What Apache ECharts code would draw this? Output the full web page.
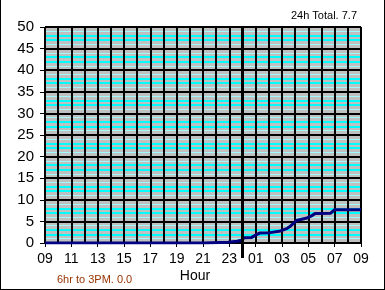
<!DOCTYPE html>
<html>
<head>
<meta charset="utf-8">
<script src="https://cdn.jsdelivr.net/npm/echarts@6/dist/echarts.min.js"></script>
<style>
html,body{margin:0;padding:0;background:#fff;}
#wrap{position:relative;width:385px;height:290px;}
#chart{position:absolute;left:0;top:0;width:385px;height:290px;}
#frame{position:absolute;left:0;top:0;width:385px;height:290px;box-sizing:border-box;border-left:1px solid #000;border-right:1px solid #000;border-bottom:1px solid #000;pointer-events:none;}
</style>
</head>
<body>
<div id="wrap"><div id="chart"></div><div id="frame"></div></div>
<script>
// Hours elapsed since 09:00 (0..24) and cumulative rainfall
var hours = [0, 12.1, 12.2, 13.9, 14.0, 14.6, 14.7, 15.0, 15.1, 15.7, 16.1, 16.3, 17.1, 17.2, 17.9, 18.0, 18.4, 18.6, 19.1, 19.5, 19.9, 20.0, 20.2, 20.5, 21.7, 22.0, 24];
var rain  = [0, 0,    0.2,  0.2,  0.4,  0.4,  0.6,  0.7,  1.2,  1.3,  2.0,  2.3,  2.4,  2.7,  2.8,  3.0,  3.4,  3.8,  5.2,  5.5,  5.8,  5.6,  6.2,  6.8,  6.9,  7.7,  7.7];
var hourTickLabels = ['09','11','13','15','17','19','21','23','01','03','05','07','09'];
var yTicks = [0,5,10,15,20,25,30,35,40,45,50];
var midnightHour = 15;
var totalText = '24h Total. 7.7';
var subText = '6hr to 3PM. 0.0';
var xName = 'Hour';

var FONT = 'Arial, "Liberation Sans", sans-serif';
var seriesData = hours.map(function(h,i){return [h, rain[i]];});

var chart = echarts.init(document.getElementById('chart'), null, {renderer:'canvas'});
var yMin = yTicks[0], yMax = yTicks[yTicks.length-1];
var T = 'rgba(0,0,0,0)';
var option = {
  animation:false,
  grid:{left:45, top:27, right:24, bottom:47, show:true, backgroundColor:'#C0C0C0', borderColor:'#808080', borderWidth:1, containLabel:false},
  xAxis:[{
    type:'value', position:'bottom', min:0, max:24, interval:2, z:2,
    axisLine:{show:true, onZero:false, lineStyle:{color:'#000', width:1}},
    axisTick:{show:true, length:4, lineStyle:{color:'#000'}},
    axisLabel:{margin:9, fontSize:14, fontFamily:FONT, color:'#000',
      formatter:function(v){return hourTickLabels[Math.round(v/2)];}},
    splitLine:{show:false}
  },{
    type:'value', position:'bottom', offset:0, min:0, max:24, interval:1, z:2, show:true,
    axisLine:{show:false}, axisTick:{show:false}, axisLabel:{show:false},
    splitLine:{show:true, lineStyle:{color:'#000', width:2}}
  }],
  yAxis:[{
    type:'value', position:'left', min:yMin, max:yMax, interval:1, z:1,
    axisLine:{show:false}, axisTick:{show:false}, axisLabel:{show:false},
    splitLine:{show:true, lineStyle:{color:[T,'#9ffbff',T,T,'#9ffbff'], width:1}}
  },{
    type:'value', position:'left', min:yMin, max:yMax, interval:1, z:1,
    axisLine:{show:false}, axisTick:{show:false}, axisLabel:{show:false},
    splitLine:{show:true, lineStyle:{color:[T,T,'#00ffff','#00ffff',T], width:2}}
  },{
    type:'value', position:'left', offset:0, min:yMin, max:yMax, interval:5, z:2,
    axisLine:{show:true, lineStyle:{color:'#000', width:1}},
    axisTick:{show:true, length:5, lineStyle:{color:'#000'}},
    axisLabel:{margin:11, fontSize:15, fontFamily:FONT, color:'#000'},
    splitLine:{show:true, lineStyle:{color:'#000', width:2}}
  }],
  series:[{
    type:'line', xAxisIndex:0, yAxisIndex:2, z:5,
    data:seriesData, showSymbol:false, symbol:'none',
    lineStyle:{color:'#000080', width:3}
  }]
};
chart.setOption(option);

var mx = chart.convertToPixel({xAxisIndex:0}, midnightHour);
var topY = chart.convertToPixel({yAxisIndex:2}, yMax);
var botY = chart.convertToPixel({yAxisIndex:2}, yMin);
chart.setOption({
  graphic:[
    {type:'line', z:10, shape:{x1:mx, y1:topY, x2:mx, y2:botY+15}, style:{stroke:'#000', lineWidth:3}},
    {type:'text', z:10, x:357, y:16, style:{text:totalText, font:'11px '+FONT, fill:'#000', textAlign:'right', textVerticalAlign:'middle'}},
    {type:'text', z:10, x:57, y:280, style:{text:subText, font:'11px '+FONT, fill:'#993300', textAlign:'left', textVerticalAlign:'middle'}},
    {type:'text', z:10, x:195, y:276, style:{text:xName, font:'14px '+FONT, fill:'#000', textAlign:'center', textVerticalAlign:'middle'}}
  ]
});
</script>
</body>
</html>
